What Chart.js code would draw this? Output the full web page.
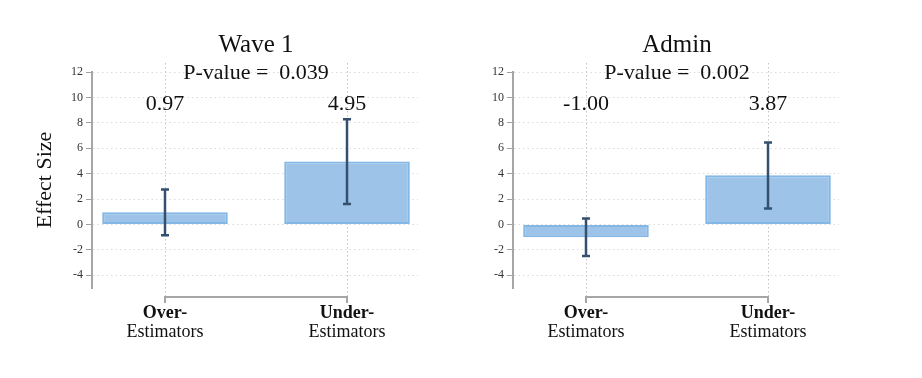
<!DOCTYPE html>
<html>
<head>
<meta charset="utf-8">
<script src="https://cdn.jsdelivr.net/npm/chart.js@4/dist/chart.umd.min.js"></script>
<style>
  html, body { margin: 0; padding: 0; background: #ffffff; }
  #wrap { position: relative; width: 922px; height: 378px; overflow: hidden; background: #fff; }
  canvas { position: absolute; top: 0; }
</style>
</head>
<body>
<div id="wrap">
  <canvas id="c1" width="461" height="378" style="left:0px"></canvas>
  <canvas id="c2" width="461" height="378" style="left:421px"></canvas>
</div>
<script>
// ---- data ----
const categoryPositions = [0, 1];
const catLine1 = ['Over-', 'Under-'];
const catLine2 = ['Estimators', 'Estimators'];
const panelTitles = ['Wave 1', 'Admin'];
const pValues = ['0.039', '0.002'];
const wave1Values = [0.97, 4.95];
const wave1Low = [-0.84, 1.62];
const wave1High = [2.75, 8.28];
const adminValues = [-1.00, 3.87];
const adminLow = [-2.49, 1.26];
const adminHigh = [0.47, 6.45];
const yTicks = [-4, -2, 0, 2, 4, 6, 8, 10, 12];
const yTitle = 'Effect Size';

const SERIF = '"Liberation Serif", "Times New Roman", serif';

const panelPlugin = {
  id: 'panelPlugin',
  beforeDatasetsDraw(chart) {
    const ctx = chart.ctx, xs = chart.scales.x;
    const top = chart.chartArea.top - 9, bot = chart.chartArea.bottom + 9;
    ctx.save();
    ctx.strokeStyle = '#c4c4c4';
    ctx.lineWidth = 1;
    ctx.setLineDash([1.5, 2.5]);
    categoryPositions.forEach(v => {
      const x = Math.round(xs.getPixelForValue(v)) + 0.5;
      ctx.beginPath(); ctx.moveTo(x, top); ctx.lineTo(x, bot); ctx.stroke();
    });
    ctx.restore();
  },
  afterDatasetsDraw(chart) {
    const o = chart.options.plugins.panelPlugin;
    const ctx = chart.ctx, xs = chart.scales.x, ys = chart.scales.y;
    const ca = chart.chartArea;
    ctx.save();
    // error bars
    ctx.strokeStyle = '#34506e';
    ctx.lineWidth = 2.5;
    ctx.setLineDash([]);
    categoryPositions.forEach((v, i) => {
      const x = xs.getPixelForValue(v);
      const y1 = ys.getPixelForValue(o.low[i]);
      const y2 = ys.getPixelForValue(o.high[i]);
      ctx.beginPath();
      ctx.moveTo(x, y1); ctx.lineTo(x, y2);
      ctx.moveTo(x - 4, y1); ctx.lineTo(x + 4, y1);
      ctx.moveTo(x - 4, y2); ctx.lineTo(x + 4, y2);
      ctx.stroke();
    });
    // x bracket axis
    const xa = xs.getPixelForValue(categoryPositions[0]);
    const xb = xs.getPixelForValue(categoryPositions[categoryPositions.length - 1]);
    const yb = ca.bottom + 9;
    ctx.strokeStyle = '#a6a6a6';
    ctx.lineWidth = 2;
    ctx.beginPath();
    ctx.moveTo(xa, yb + 6); ctx.lineTo(xa, yb); ctx.lineTo(xb, yb); ctx.lineTo(xb, yb + 6);
    ctx.stroke();
    // category labels
    ctx.fillStyle = '#111';
    ctx.textAlign = 'center';
    ctx.textBaseline = 'middle';
    categoryPositions.forEach((v, i) => {
      const x = xs.getPixelForValue(v);
      ctx.font = 'bold 18px ' + SERIF;
      ctx.fillText(catLine1[i], x, ca.bottom + 25);
      ctx.font = '18px ' + SERIF;
      ctx.fillText(catLine2[i], x, ca.bottom + 44);
    });
    // value labels
    ctx.font = '22px ' + SERIF;
    categoryPositions.forEach((v, i) => {
      const x = xs.getPixelForValue(v);
      ctx.fillText(o.values[i].toFixed(2), x, ca.top + 32);
    });
    const mid = (xa + xb) / 2;
    ctx.font = '22px ' + SERIF;
    ctx.fillText('P-value =  ' + o.pValue, mid, ca.top + 1);
    ctx.font = '25px ' + SERIF;
    ctx.fillText(o.title, mid, ca.top - 27);
    if (o.showYTitle) {
      ctx.save();
      ctx.translate(45, (ca.top + ca.bottom) / 2);
      ctx.rotate(-Math.PI / 2);
      ctx.font = '22px ' + SERIF;
      ctx.fillText(yTitle, 0, 0);
      ctx.restore();
    }
    ctx.restore();
  }
};

function makeChart(id, title, pValue, values, low, high, showYTitle) {
  return new Chart(document.getElementById(id), {
    type: 'bar',
    data: {
      datasets: [{
        data: categoryPositions.map((x, i) => ({ x: x, y: values[i] })),
        backgroundColor: '#9dc4e8',
        borderColor: '#82b7e6',
        borderWidth: 2,
        borderSkipped: false,
        barPercentage: 0.69,
        categoryPercentage: 1.0
      }]
    },
    options: {
      responsive: false,
      animation: false,
      devicePixelRatio: 1,
      layout: { padding: { left: 0, right: 43, top: 72, bottom: 90 } },
      plugins: {
        legend: { display: false },
        tooltip: { enabled: false },
        panelPlugin: { title, pValue, values, low, high, showYTitle }
      },
      scales: {
        x: {
          type: 'linear',
          display: false,
          offset: false,
          min: -0.401,
          max: 1.39,
          afterBuildTicks: s => { s.ticks = categoryPositions.map(v => ({ value: v })); }
        },
        y: {
          type: 'linear',
          position: 'left',
          min: -5,
          max: 12,
          afterBuildTicks: s => { s.ticks = yTicks.map(v => ({ value: v })); },
          afterFit: s => { s.width = 92; },
          grid: {
            color: '#dcdcdc',
            lineWidth: 1,
            tickColor: '#a0a0a0',
            tickLength: 6,
            tickWidth: 1
          },
          border: { display: true, color: '#a6a6a6', width: 2, dash: [1.5, 3] },
          ticks: {
            font: { family: SERIF, size: 12 },
            color: '#333',
            padding: 3
          }
        }
      }
    },
    plugins: [panelPlugin]
  });
}

makeChart('c1', panelTitles[0], pValues[0], wave1Values, wave1Low, wave1High, true);
makeChart('c2', panelTitles[1], pValues[1], adminValues, adminLow, adminHigh, false);
</script>
</body>
</html>
